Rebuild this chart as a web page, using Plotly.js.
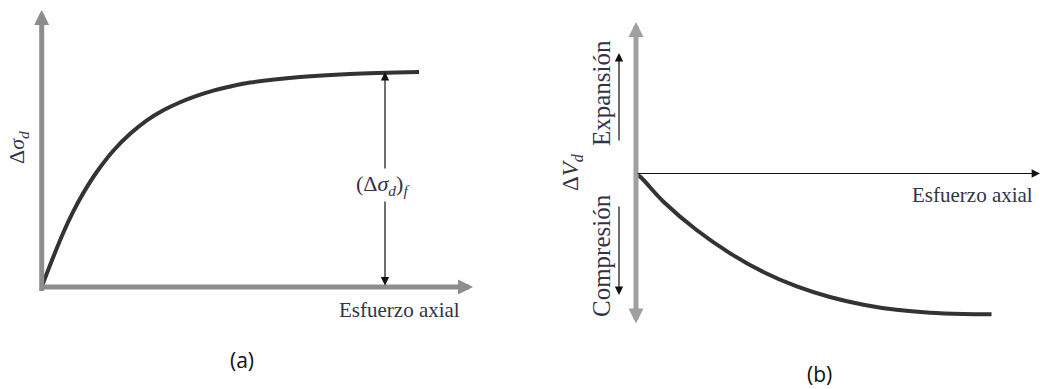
<!DOCTYPE html>
<html>
<head>
<meta charset="utf-8">
<script src="https://cdn.plot.ly/plotly-3.0.1.min.js"></script>
<style>html,body{margin:0;padding:0;background:#fff;}#chart{width:1046px;height:389px;}</style>
</head>
<body>
<div id="chart"></div>
<script>
// Panel (a): deviator stress vs axial strain
var strainA = [0, 0.27, 0.50, 0.73, 0.96, 1.28, 1.66, 2.05, 2.43, 2.82, 3.21, 3.59, 3.98, 4.37, 4.83, 5.99, 7.15, 8.75];
var devStressA = [0, 0.109, 0.196, 0.272, 0.338, 0.416, 0.492, 0.553, 0.601, 0.638, 0.667, 0.690, 0.709, 0.724, 0.738, 0.758, 0.769, 0.776];
// Panel (b): volume change vs axial strain
var strainB = [0, 0.10, 0.68, 1.50, 2.33, 3.15, 3.98, 4.80, 5.63, 6.45, 7.28, 8.10, 8.80];
var volChangeB = [-0.005, -0.021, -0.186, -0.373, -0.527, -0.650, -0.745, -0.815, -0.866, -0.900, -0.919, -0.927, -0.929];
// Failure marker position in (a)
var failureStrain = 7.96;
var failureStress = 0.776;
// Texts
var xLabel = 'Esfuerzo axial';
var yLabelA = '\u0394<i>\u03c3</i><sub><i>d</i></sub>';
var failLabel = '(\u0394<i>\u03c3</i><sub><i>d</i></sub>)<sub><i>f</i></sub>';
var yLabelB = '\u0394<i>V</i><sub><i>d</i></sub>';
var expLabel = 'Expansión';
var compLabel = 'Compresión';
var panelA = '(a)';
var panelB = '(b)';

var axisGray = '#8d8d8d';
var curveColor = '#333333';
var textColor = '#33334a';
var serif = 'Liberation Serif, Times New Roman, serif';

var traces = [
  {x: strainA, y: devStressA, xaxis: 'x', yaxis: 'y', mode: 'lines', type: 'scatter',
   line: {color: curveColor, width: 4, shape: 'spline', smoothing: 1}, hoverinfo: 'skip'},
  {x: strainB, y: volChangeB, xaxis: 'x2', yaxis: 'y2', mode: 'lines', type: 'scatter',
   line: {color: curveColor, width: 4, shape: 'spline', smoothing: 1}, hoverinfo: 'skip'}
];

function hidden(extra) {
  var o = {showgrid: false, zeroline: false, showline: false, showticklabels: false, ticks: '', fixedrange: true};
  for (var k in extra) o[k] = extra[k];
  return o;
}

function txt(o) {
  o.showarrow = false;
  if (!o.xanchor) o.xanchor = 'center';
  if (!o.yanchor) o.yanchor = 'middle';
  return o;
}

var annotations = [
  // Panel (a) gray axes
  {xref: 'x', yref: 'y', axref: 'x', ayref: 'y', x: 10, y: 0, ax: -0.02, ay: 0,
   showarrow: true, arrowhead: 2, arrowwidth: 5, arrowsize: 0.6, arrowcolor: axisGray, text: ''},
  {xref: 'x', yref: 'y', axref: 'x', ayref: 'y', x: 0, y: 1, ax: 0, ay: -0.02,
   showarrow: true, arrowhead: 2, arrowwidth: 5, arrowsize: 0.6, arrowcolor: axisGray, text: ''},
  // Failure double arrow
  {xref: 'x', yref: 'y', axref: 'x', ayref: 'y', x: failureStrain, y: failureStress, ax: failureStrain, ay: 0,
   showarrow: true, arrowhead: 2, startarrowhead: 2, arrowside: 'end+start', arrowwidth: 1.2, arrowsize: 1.4, startarrowsize: 1.4,
   arrowcolor: '#111', text: ''},
  txt({xref: 'x', yref: 'y', x: failureStrain - 0.05, y: 0.368, text: failLabel,
   bgcolor: '#ffffff', font: {family: serif, size: 22, color: textColor}, borderpad: 2}),
  txt({xref: 'paper', yref: 'paper', x: 462/1046, y: (389-310)/389, xanchor: 'right', text: xLabel,
   font: {family: serif, size: 21, color: textColor}}),
  txt({xref: 'paper', yref: 'paper', x: 18/1046, y: (389-148)/389, text: yLabelA, textangle: -90,
   font: {family: serif, size: 22, color: textColor}}),
  txt({xref: 'paper', yref: 'paper', x: 242/1046, y: (389-360)/389, text: panelA,
   font: {family: 'Open Sans, sans-serif', size: 21, color: '#111'}}),

  // Panel (b) gray vertical double arrow
  {xref: 'x2', yref: 'y2', axref: 'x2', ayref: 'y2', x: 0, y: 1, ax: 0, ay: -1,
   showarrow: true, arrowhead: 2, startarrowhead: 2, arrowside: 'end+start', arrowwidth: 5, arrowsize: 0.6, startarrowsize: 0.6,
   arrowcolor: '#a0a0a0', text: ''},
  // thin horizontal axis
  {xref: 'x2', yref: 'y2', axref: 'x2', ayref: 'y2', x: 10, y: 0, ax: 0, ay: 0,
   showarrow: true, arrowhead: 2, arrowwidth: 1.2, arrowsize: 1.4, arrowcolor: '#111', text: ''},
  txt({xref: 'paper', yref: 'paper', x: 1035/1046, y: (389-195)/389, xanchor: 'right', text: xLabel,
   font: {family: serif, size: 21, color: textColor}}),
  // expansion / compression arrows
  {xref: 'paper', yref: 'y2', axref: 'pixel', ayref: 'y2', x: 619/1046, y: 0.795, ax: 0, ay: 0.208,
   showarrow: true, arrowhead: 2, arrowwidth: 1.2, arrowsize: 1.4, arrowcolor: '#111', text: ''},
  {xref: 'paper', yref: 'y2', axref: 'pixel', ayref: 'y2', x: 619/1046, y: -0.802, ax: 0, ay: -0.208,
   showarrow: true, arrowhead: 2, arrowwidth: 1.2, arrowsize: 1.4, arrowcolor: '#111', text: ''},
  txt({xref: 'paper', yref: 'paper', x: 601/1046, y: (389-93)/389, text: expLabel, textangle: -90,
   font: {family: serif, size: 25, color: textColor}}),
  txt({xref: 'paper', yref: 'paper', x: 601/1046, y: (389-256)/389, text: compLabel, textangle: -90,
   font: {family: serif, size: 25, color: textColor}}),
  txt({xref: 'paper', yref: 'paper', x: 572/1046, y: (389-172)/389, text: yLabelB, textangle: -90,
   font: {family: serif, size: 23, color: textColor}}),
  txt({xref: 'paper', yref: 'paper', x: 819/1046, y: (389-374)/389, text: panelB,
   font: {family: 'Open Sans, sans-serif', size: 21, color: '#111'}})
];

var layout = {
  width: 1046, height: 389,
  margin: {l: 0, r: 0, t: 0, b: 0},
  paper_bgcolor: '#ffffff', plot_bgcolor: 'rgba(0,0,0,0)',
  showlegend: false,
  xaxis: hidden({domain: [41.7/1046, 473/1046], range: [0, 10]}),
  yaxis: hidden({domain: [(389-287)/389, (389-10)/389], range: [0, 1]}),
  xaxis2: hidden({domain: [636/1046, 1040/1046], range: [0, 10], anchor: 'y2'}),
  yaxis2: hidden({domain: [(389-325)/389, (389-22)/389], range: [-1, 1], anchor: 'x2'}),
  annotations: annotations
};

Plotly.newPlot('chart', traces, layout, {staticPlot: true, displayModeBar: false});
</script>
</body>
</html>
